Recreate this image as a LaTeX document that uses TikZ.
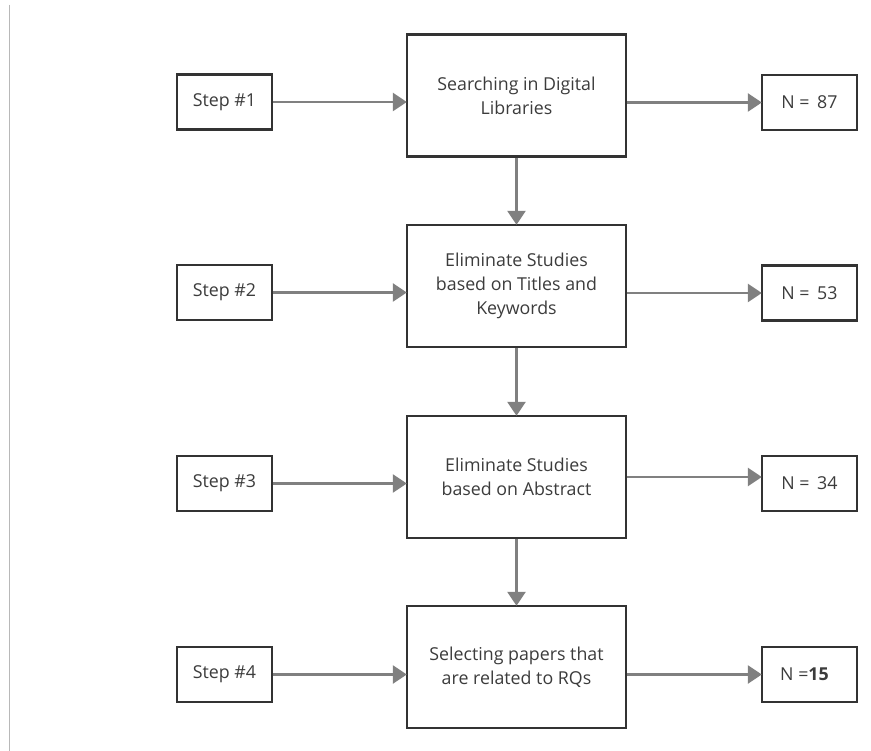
\documentclass[tikz,border=0pt]{standalone}
\usepackage{fontspec}
\setmainfont{Open Sans}
\usetikzlibrary{arrows.meta,calc}

\definecolor{boxline}{HTML}{333333}
\definecolor{arrowgray}{HTML}{808080}
\definecolor{textgray}{HTML}{3C3C3C}
\definecolor{rulegray}{HTML}{B8B8B8}

\tikzset{
  base/.style={draw=boxline, line width=2.4pt, fill=white, inner sep=0pt,
    text=textgray, font=\fontsize{17.8}{24}\selectfont, align=center},
  smallbox/.style={base, minimum width=95pt, minimum height=55pt},
  stagebox/.style={base, minimum width=219pt, minimum height=122pt},
  flow/.style={draw=arrowgray, line width=2.8pt,
    -{Triangle[length=14pt,width=18pt]}, shorten >=-1pt},
}

\begin{document}
\begin{tikzpicture}[x=1pt,y=-1pt]
  \useasboundingbox (0,0) rectangle (871,751);
  \fill[white] (0,0) rectangle (871,751);

  % thin rule along the left margin
  \draw[rulegray, line width=1pt] (9.5,5) -- (9.5,751);

  % stage boxes
  \node[stagebox] (c1) at (516.5,95.5) {Searching in Digital\\Libraries};
  \node[stagebox] (c2) at (516.5,286) {Eliminate Studies\\based on Titles and\\Keywords};
  \node[stagebox] (c3) at (516.5,477) {Eliminate Studies\\based on Abstract};
  \node[stagebox] (c4) at (516.5,667) {Selecting papers that\\are related to RQs};

  % step labels
  \node[smallbox] (s1) at (224.5,102) {Step \#1};
  \node[smallbox] (s2) at (224.5,292.5) {Step \#2};
  \node[smallbox] (s3) at (224.5,483.5) {Step \#3};
  \node[smallbox] (s4) at (224.5,674.5) {Step \#4};

  % counts
  \node[smallbox] (n1) at (809.5,102.5) {N =\, 87};
  \node[smallbox] (n2) at (809.5,293) {N =\, 53};
  \node[smallbox] (n3) at (809.5,483.5) {N =\, 34};
  \node[smallbox] (n4) at (809.5,674.5) {N =\textbf{15}\hspace{10pt}};

  % step -> stage
  \foreach \i in {1,...,4}
    \draw[flow] (s\i.east) -- (s\i.east -| c\i.west);

  % stage -> count
  \draw[flow] (n1.west -| c1.east) -- (n1.west);
  \draw[flow] (n2.west -| c2.east) -- (n2.west);
  \draw[flow] (c3.east) -- (c3.east -| n3.west);
  \draw[flow] (n4.west -| c4.east) -- (n4.west);

  % stage -> stage
  \draw[flow] (c1.south) -- (c2.north);
  \draw[flow] (c2.south) -- (c3.north);
  \draw[flow] (c3.south) -- (c4.north);
\end{tikzpicture}
\end{document}
